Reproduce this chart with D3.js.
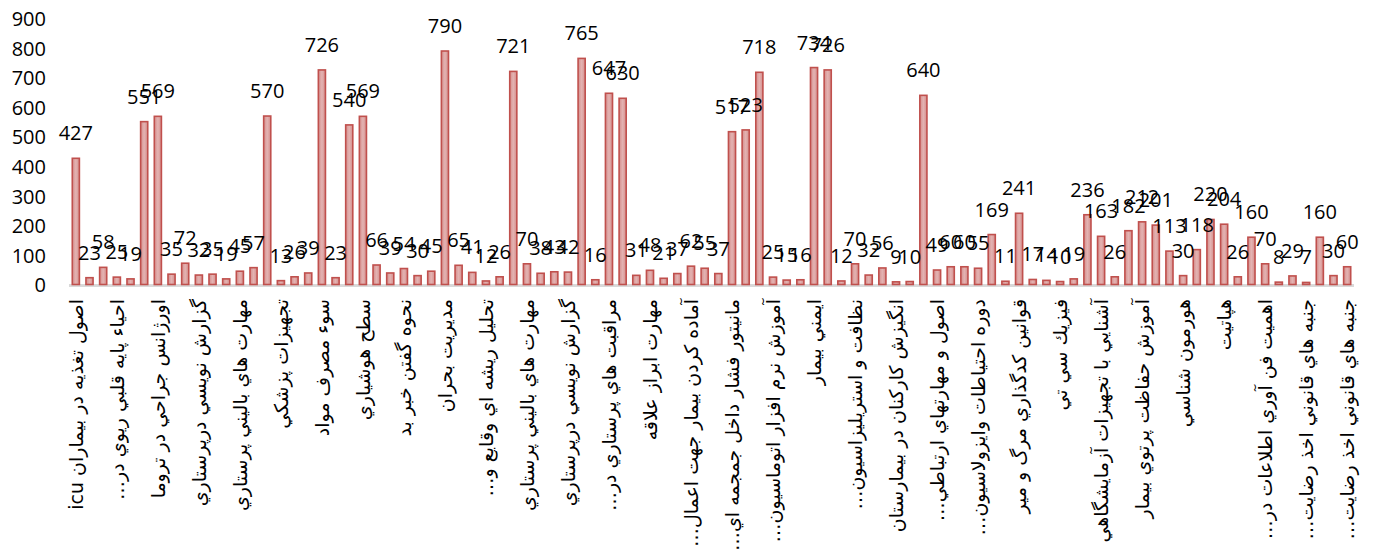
<!DOCTYPE html>
<html>
<head>
<meta charset="utf-8">
<script src="https://cdn.jsdelivr.net/npm/d3@7"></script>
<style>
  body { margin: 0; background: #fff; }
  svg { display: block; }
  .tick-label { font-family: 'Open Sans', sans-serif; font-size: 20px; fill: #000; }
  .value-label { font-family: 'Open Sans', sans-serif; font-size: 20px; fill: #000; }
  .cat-label { font-family: 'DejaVu Sans', sans-serif; font-size: 19px; fill: #000; }
</style>
</head>
<body>
<svg id="chart" width="1375" height="555"></svg>
<script>
// one value per bar
const values = [
  427, 23, 58, 25, 19, 551, 569, 35, 72, 32,
  35, 19, 45, 57, 570, 13, 26, 39, 726, 23,
  540, 569, 66, 39, 54, 30, 45, 790, 65, 41,
  12, 26, 721, 70, 38, 43, 42, 765, 16, 647,
  630, 31, 48, 21, 37, 62, 55, 37, 517, 523,
  718, 25, 15, 16, 734, 726, 12, 70, 32, 56,
  9, 10, 640, 49, 60, 60, 55, 169, 11, 241,
  17, 14, 10, 19, 236, 163, 26, 182, 212, 201,
  113, 30, 118, 220, 204, 26, 160, 70, 8, 29,
  7, 160, 30, 60
];

// only every third bar carries a visible category label
const tickLabels = [
  'اصول تغذيه در بيماران icu',
  'احياء پايه قلبي ريوي در…',
  'اورژانس جراحي در تروما',
  'گزارش نويسي درپرستاري',
  'مهارت هاي باليني پرستاري',
  'تجهيزات پزشكي',
  'سوء مصرف مواد',
  'سطح هوشياري',
  'نحوه گفتن خبر بد',
  'مديريت بحران',
  'تحليل ريشه اي وقايع و…',
  'مهارت هاي باليني پرستاري',
  'گزارش نويسي درپرستاري',
  'مراقبت هاي پرستاري در…',
  'مهارت ابراز علاقه',
  'آماده كردن بيمار جهت اعمال…',
  'مانيتور فشار داخل جمجمه اي…',
  'آموزش نرم افزار اتوماسيون…',
  'ايمني بيمار',
  'نظافت و استريليزاسيون…',
  'انگيزش كاركنان در بيمارستان',
  'اصول و مهارتهاي ارتباطي…',
  'دوره احتياطات وايزولاسيون…',
  'قوانين كدگذاري مرگ و مير',
  'فيزيك سي تي',
  'آشنايي با تجهيزات آزمايشگاهي',
  'آموزش حفاظت پرتوي بيمار',
  'هورمون شناسي',
  'هپاتيت',
  'اهميت فن آوري اطلاعات در…',
  'جنبه هاي قانوني اخذ رضايت…',
  'جنبه هاي قانوني اخذ رضايت…'
];

const yTicks = [0, 100, 200, 300, 400, 500, 600, 700, 800, 900];

const svg = d3.select('#chart');
const margin = { left: 69, right: 21, top: 18.5, bottom: 270.5 };
const width = 1375, height = 555;

const x = d3.scaleBand()
  .domain(d3.range(values.length))
  .range([margin.left, width - margin.right])
  .paddingInner(0.48)
  .paddingOuter(0.24);

const y = d3.scaleLinear()
  .domain([0, 900])
  .range([height - margin.bottom, margin.top]);

// bar fill, a bit lighter in the middle
const grad = svg.append('defs').append('linearGradient')
  .attr('id', 'barFill')
  .attr('x1', '0%').attr('x2', '100%').attr('y1', '0%').attr('y2', '0%');
grad.append('stop').attr('offset', '0%').attr('stop-color', '#d58e8c');
grad.append('stop').attr('offset', '50%').attr('stop-color', '#e3b3b2');
grad.append('stop').attr('offset', '100%').attr('stop-color', '#d58e8c');

// y axis: labels only, no line
const yAxis = svg.append('g')
  .attr('transform', 'translate(' + (margin.left - 23) + ',0)')
  .call(d3.axisLeft(y).tickValues(yTicks).tickSize(0).tickPadding(0));
yAxis.select('.domain').remove();
yAxis.selectAll('text')
  .attr('class', 'tick-label')
  .attr('dy', '0.36em');

// baseline
svg.append('line')
  .attr('x1', margin.left)
  .attr('x2', width - margin.right)
  .attr('y1', y(0) + 1)
  .attr('y2', y(0) + 1)
  .style('stroke', '#d9d9d9')
  .style('stroke-width', 3);

// bars
svg.append('g')
  .selectAll('rect')
  .data(values)
  .enter()
  .append('rect')
  .attr('x', (d, i) => x(i))
  .attr('y', d => y(d))
  .attr('width', x.bandwidth())
  .attr('height', d => y(0) - y(d))
  .style('fill', 'url(#barFill)')
  .style('stroke', '#c0504d')
  .style('stroke-width', 1.6);

// value labels
svg.append('g')
  .selectAll('text')
  .data(values)
  .enter()
  .append('text')
  .attr('class', 'value-label')
  .attr('x', (d, i) => x(i) + x.bandwidth() / 2)
  .attr('y', d => y(d) - 18)
  .attr('text-anchor', 'middle')
  .text(d => d);

// category labels, rotated, every third bar
svg.append('g')
  .selectAll('text')
  .data(tickLabels)
  .enter()
  .append('text')
  .attr('class', 'cat-label')
  .attr('direction', 'rtl')
  .attr('text-anchor', 'start')
  .attr('dominant-baseline', 'central')
  .attr('transform', (d, i) => {
    const cx = x(i * 3) + x.bandwidth() / 2;
    return 'translate(' + cx + ',299) rotate(-90)';
  })
  .text(d => d);
</script>
</body>
</html>
